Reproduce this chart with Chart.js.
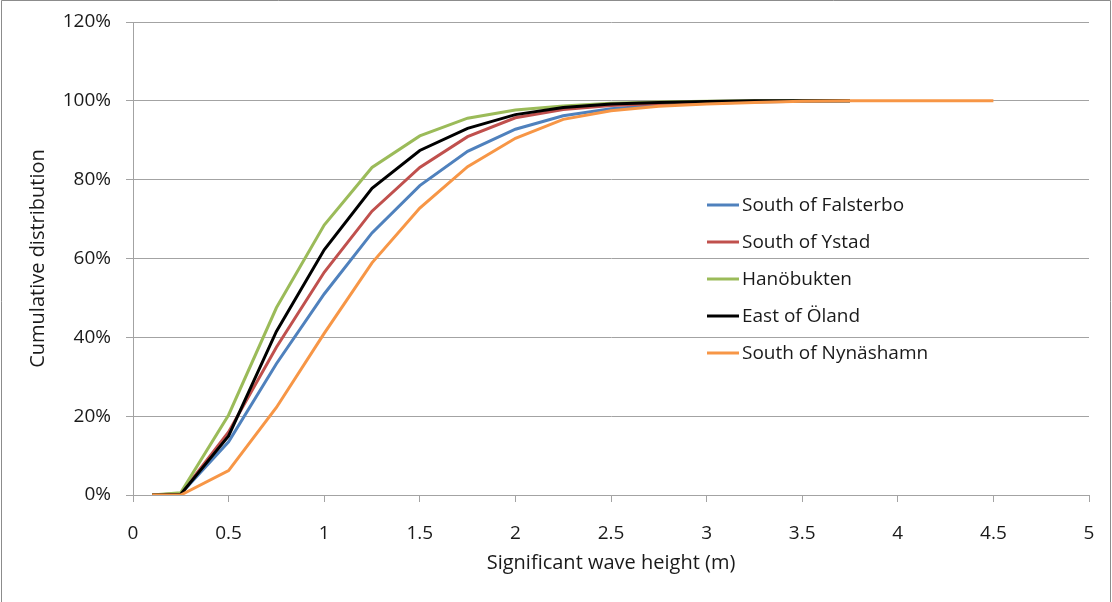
<!DOCTYPE html>
<html>
<head>
<meta charset="utf-8">
<script src="https://cdn.jsdelivr.net/npm/chart.js@4/dist/chart.umd.min.js"></script>
<style>
  html, body { margin: 0; padding: 0; background: #ffffff; }
  #wrap { width: 1112px; height: 602px; position: relative; }
</style>
</head>
<body>
<div id="wrap"><canvas id="chart" width="1112" height="602"></canvas></div>
<script>
// Significant wave height (m) at which each cumulative value is reported
const waveHeight = [0.1, 0.25, 0.5, 0.75, 1, 1.25, 1.5, 1.75, 2, 2.25, 2.5, 2.75, 3, 3.25, 3.5, 3.75, 4, 4.25, 4.5];

// Cumulative distribution (%) per station
const southOfFalsterbo = [0, 0.3, 13.5, 33.3, 51.0, 66.5, 78.5, 87.2, 92.8, 96.2, 98.0, 98.9, 99.4, 99.7, 99.9, 100];
const southOfYstad     = [0, 0.3, 16.0, 37.5, 56.5, 72.0, 83.1, 90.9, 95.7, 97.8, 98.8, 99.3, 99.7, 99.9, 100, 100];
const hanobukten       = [0, 0.6, 20.3, 47.5, 68.5, 83.1, 91.1, 95.6, 97.7, 98.7, 99.4, 99.7, 99.9, 100, 100, 100];
const eastOfOland      = [0, 0.2, 15.0, 41.5, 62.2, 77.8, 87.4, 93.0, 96.5, 98.3, 99.2, 99.6, 99.8, 100, 100, 100];
const southOfNynashamn = [0, 0, 6.2, 22.2, 41.0, 58.9, 72.8, 83.3, 90.5, 95.3, 97.5, 98.6, 99.2, 99.6, 99.9, 100, 100, 100, 100];

const seriesNames  = ['South of Falsterbo', 'South of Ystad', 'Hanöbukten', 'East of Öland', 'South of Nynäshamn'];
const seriesValues = [southOfFalsterbo, southOfYstad, hanobukten, eastOfOland, southOfNynashamn];
const seriesColors = ['#4f81bd', '#c0504d', '#9bbb59', '#000000', '#f79646'];

// Axis ticks
const xTickStep = 0.5, xMin = 0, xMax = 5;
const yTickStep = 20,  yMin = 0, yMax = 120;

const FONT = "'Open Sans', 'Liberation Sans', sans-serif";
const TEXT = '#1a1a1a';
const GRID = '#a3a3a3';

const datasets = seriesNames.map((name, i) => ({
  label: name,
  data: seriesValues[i].map((v, k) => ({ x: waveHeight[k], y: v })),
  borderColor: seriesColors[i],
  backgroundColor: seriesColors[i],
  borderWidth: 3,
  pointRadius: 0,
  tension: 0,
  fill: false,
  // later series are painted over earlier ones
  order: seriesNames.length - 1 - i
}));

// White page with a thin frame on the left, top and right
const framePlugin = {
  id: 'frame',
  beforeDraw(chart) {
    const { ctx, width, height } = chart;
    ctx.save();
    ctx.fillStyle = '#ffffff';
    ctx.fillRect(0, 0, width, height);
    ctx.strokeStyle = '#8c8c8c';
    ctx.lineWidth = 1;
    ctx.beginPath();
    ctx.moveTo(1.5, height);
    ctx.lineTo(1.5, 0.5);
    ctx.lineTo(width - 1.5, 0.5);
    ctx.lineTo(width - 1.5, height);
    ctx.stroke();
    ctx.restore();
  }
};

// Legend placed inside the plot area, one series per row
const insideLegend = {
  id: 'insideLegend',
  afterDraw(chart) {
    const { ctx } = chart;
    const x0 = 707, lineLen = 32, gap = 3, rowTop = 206, rowStep = 37;
    ctx.save();
    ctx.font = '19px ' + FONT;
    ctx.textBaseline = 'middle';
    ctx.textAlign = 'left';
    chart.data.datasets.forEach((ds, i) => {
      const y = rowTop + i * rowStep;
      ctx.strokeStyle = ds.borderColor;
      ctx.lineWidth = 3;
      ctx.beginPath();
      ctx.moveTo(x0, y - 1);
      ctx.lineTo(x0 + lineLen, y - 1);
      ctx.stroke();
      ctx.fillStyle = TEXT;
      ctx.fillText(ds.label, x0 + lineLen + gap, y);
    });
    ctx.restore();
  }
};

new Chart(document.getElementById('chart'), {
  type: 'line',
  data: { datasets },
  options: {
    responsive: false,
    animation: false,
    events: [],
    layout: { padding: { top: 22, right: 23, bottom: 0, left: 0 } },
    plugins: {
      legend: { display: false },
      tooltip: { enabled: false },
      title: { display: false }
    },
    scales: {
      x: {
        type: 'linear',
        min: xMin,
        max: xMax,
        ticks: {
          stepSize: xTickStep,
          color: TEXT,
          font: { family: FONT, size: 19 },
          padding: 20,
          maxRotation: 0,
          autoSkip: false,
          callback: v => String(v)
        },
        grid: { display: true, drawOnChartArea: false, drawTicks: true, tickLength: 7, color: GRID, tickColor: GRID },
        border: { display: true, color: GRID, width: 1 },
        title: {
          display: true,
          text: 'Significant wave height (m)',
          color: TEXT,
          font: { family: FONT, size: 20 },
          padding: { top: 0, bottom: 27 }
        },
        afterFit(scale) {
          scale.height = 107;
          scale.paddingLeft = 0;
          scale.paddingRight = 0;
        }
      },
      y: {
        type: 'linear',
        min: yMin,
        max: yMax,
        ticks: {
          stepSize: yTickStep,
          color: TEXT,
          font: { family: FONT, size: 19 },
          padding: 15,
          callback: v => v + '%'
        },
        grid: { display: true, drawOnChartArea: true, drawTicks: true, tickLength: 7, color: GRID, tickColor: GRID },
        border: { display: true, color: GRID, width: 1 },
        title: {
          display: true,
          text: 'Cumulative distribution',
          color: TEXT,
          font: { family: FONT, size: 20 },
          padding: { top: 26, bottom: 0 }
        },
        afterFit(scale) {
          scale.width = 133;
          scale.paddingTop = 0;
          scale.paddingBottom = 0;
        }
      }
    }
  },
  plugins: [framePlugin, insideLegend]
});
</script>
</body>
</html>
